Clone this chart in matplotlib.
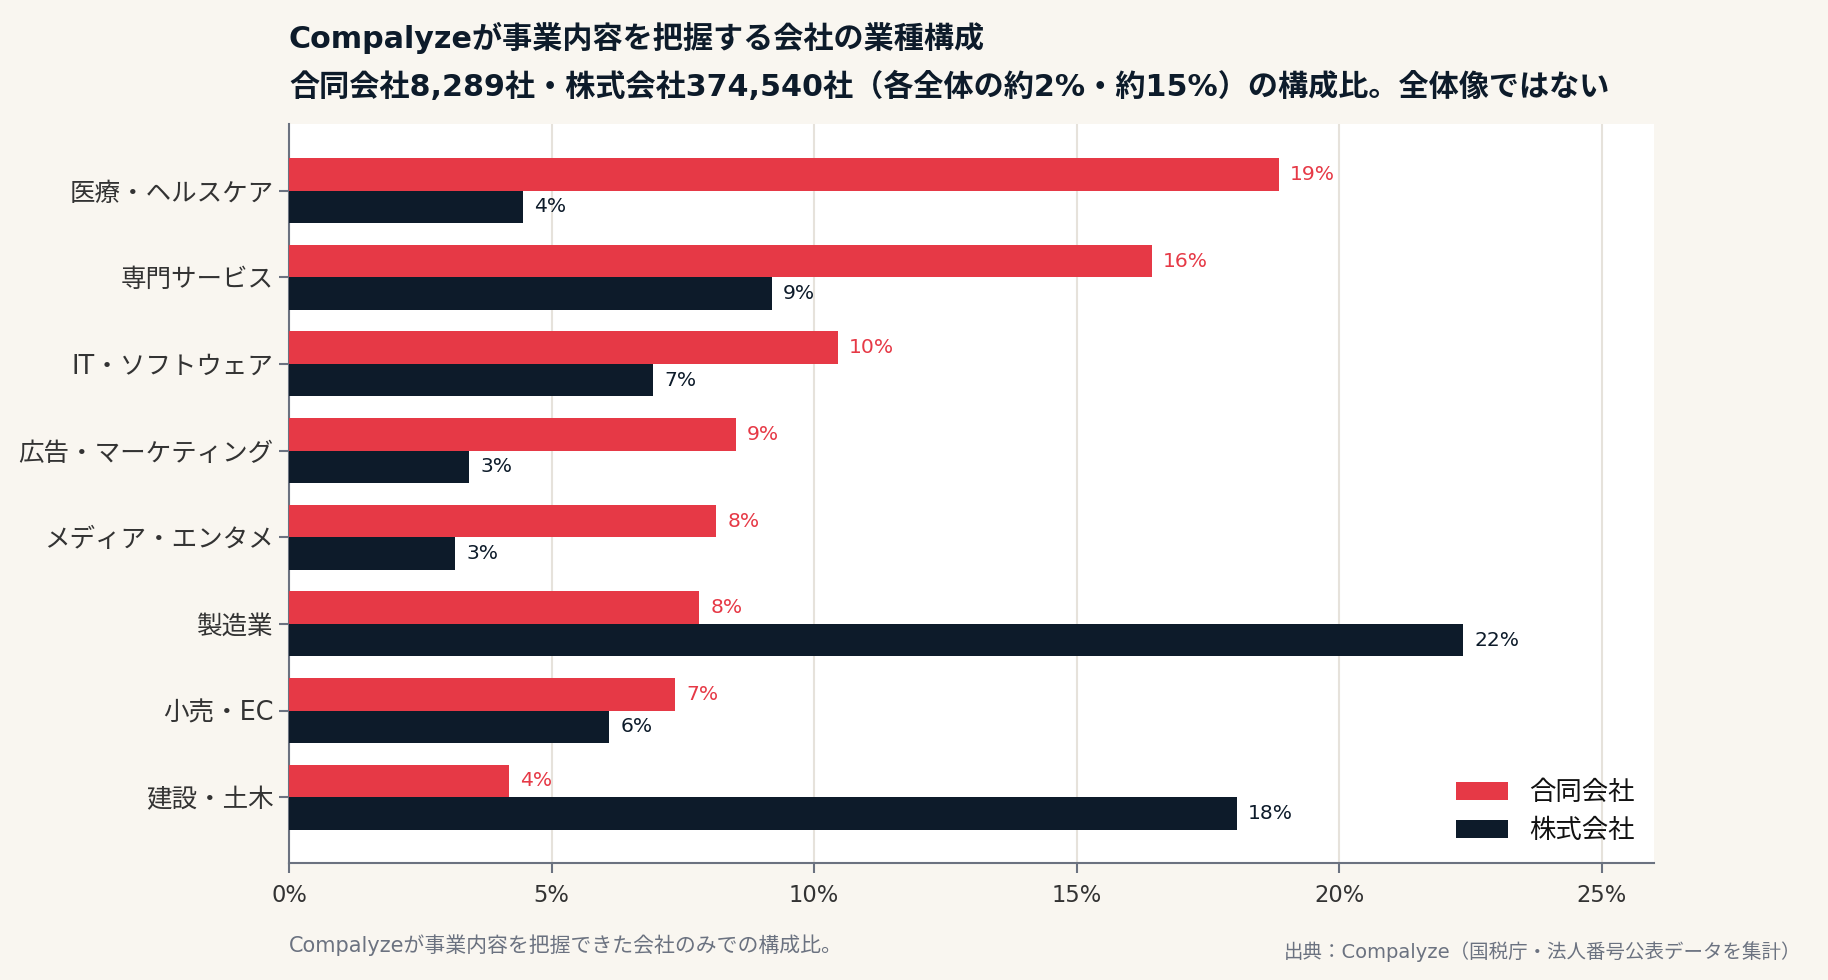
import matplotlib
matplotlib.use("Agg")
import matplotlib.pyplot as plt
import numpy as np
from matplotlib.ticker import FuncFormatter

FAM = ['DejaVu Sans', 'Noto Sans CJK JP']
plt.rcParams['font.family'] = FAM

categories = ["医療・ヘルスケア", "専門サービス", "IT・ソフトウェア", "広告・マーケティング",
              "メディア・エンタメ", "製造業", "小売・EC", "建設・土木"]
godo = [18.85, 16.44, 10.45, 8.51, 8.14, 7.81, 7.35, 4.19]
kabushiki = [4.45, 9.20, 6.93, 3.43, 3.16, 22.37, 6.10, 18.06]
series_names = ["合同会社", "株式会社"]
xticks = [0, 5, 10, 15, 20, 25]

title1 = "Compalyzeが事業内容を把握する会社の業種構成"
title2 = "合同会社8,289社・株式会社374,540社（各全体の約2%・約15%）の構成比。全体像ではない"
note_left = "Compalyzeが事業内容を把握できた会社のみでの構成比。"
note_right = "出典：Compalyze（国税庁・法人番号公表データを集計）"

RED = "#E63946"
NAVY = "#0D1B2A"
BG = "#F9F6F0"
GRID = "#E6E2DB"
SPINE = "#6B7280"

fig = plt.figure(figsize=(18.28, 9.8), dpi=100, facecolor=BG)
ax = fig.add_axes([289/1828, 1-863/980, (1654-289)/1828, (863-124)/980])
ax.set_facecolor("white")

y = np.arange(len(categories))
h = 0.375
b1 = ax.barh(y - h/2, godo, height=h, color=RED, label=series_names[0], zorder=3)
b2 = ax.barh(y + h/2, kabushiki, height=h, color=NAVY, label=series_names[1], zorder=3)

for bars, vals, col in [(b1, godo, RED), (b2, kabushiki, NAVY)]:
    for rect, v in zip(bars, vals):
        ax.annotate(f"{v:.0f}%", (rect.get_width(), rect.get_y() + rect.get_height()/2),
                    xytext=(8, 0), textcoords="offset points", va="center", ha="left",
                    fontsize=14.6, color=col, zorder=4)

ax.set_xlim(0, 26)
ax.set_ylim(7.76, -0.77)
ax.set_yticks(y)
ax.set_yticklabels(categories)
ax.set_xticks(xticks)
ax.xaxis.set_major_formatter(FuncFormatter(lambda v, p: f"{v:.0f}%"))
ax.grid(axis="x", color=GRID, linewidth=1.5, zorder=0)
ax.grid(axis="y", visible=False)
for s in ["top", "right"]:
    ax.spines[s].set_visible(False)
for s in ["left", "bottom"]:
    ax.spines[s].set_color(SPINE)
    ax.spines[s].set_linewidth(1.5)
ax.tick_params(axis="both", colors=SPINE, length=7, width=1.5, labelcolor="#333333")
ax.tick_params(axis="y", labelsize=18.4, pad=4)
ax.tick_params(axis="x", labelsize=16.3, pad=8)

leg = ax.legend(loc="lower right", frameon=False, fontsize=19, handlelength=2.0,
                handleheight=0.7, handletextpad=0.8, labelspacing=0.45, borderaxespad=0.32)
for t in leg.get_texts():
    t.set_color("#111111")

fig.text(289/1828, 1-38/980, title1, fontsize=21.7, fontweight="bold", color=NAVY,
         ha="left", va="center")
fig.text(289/1828, 1-87/980, title2, fontsize=21.7, fontweight="bold", color=NAVY,
         ha="left", va="center")
fig.text(289/1828, 1-945/980, note_left, fontsize=15, color="#6B7280", ha="left", va="center")
fig.text(1801/1828, 1-952/980, note_right, fontsize=14, color="#6B7280", ha="right", va="center")

fig.savefig("out.png", dpi=100, facecolor=BG)
